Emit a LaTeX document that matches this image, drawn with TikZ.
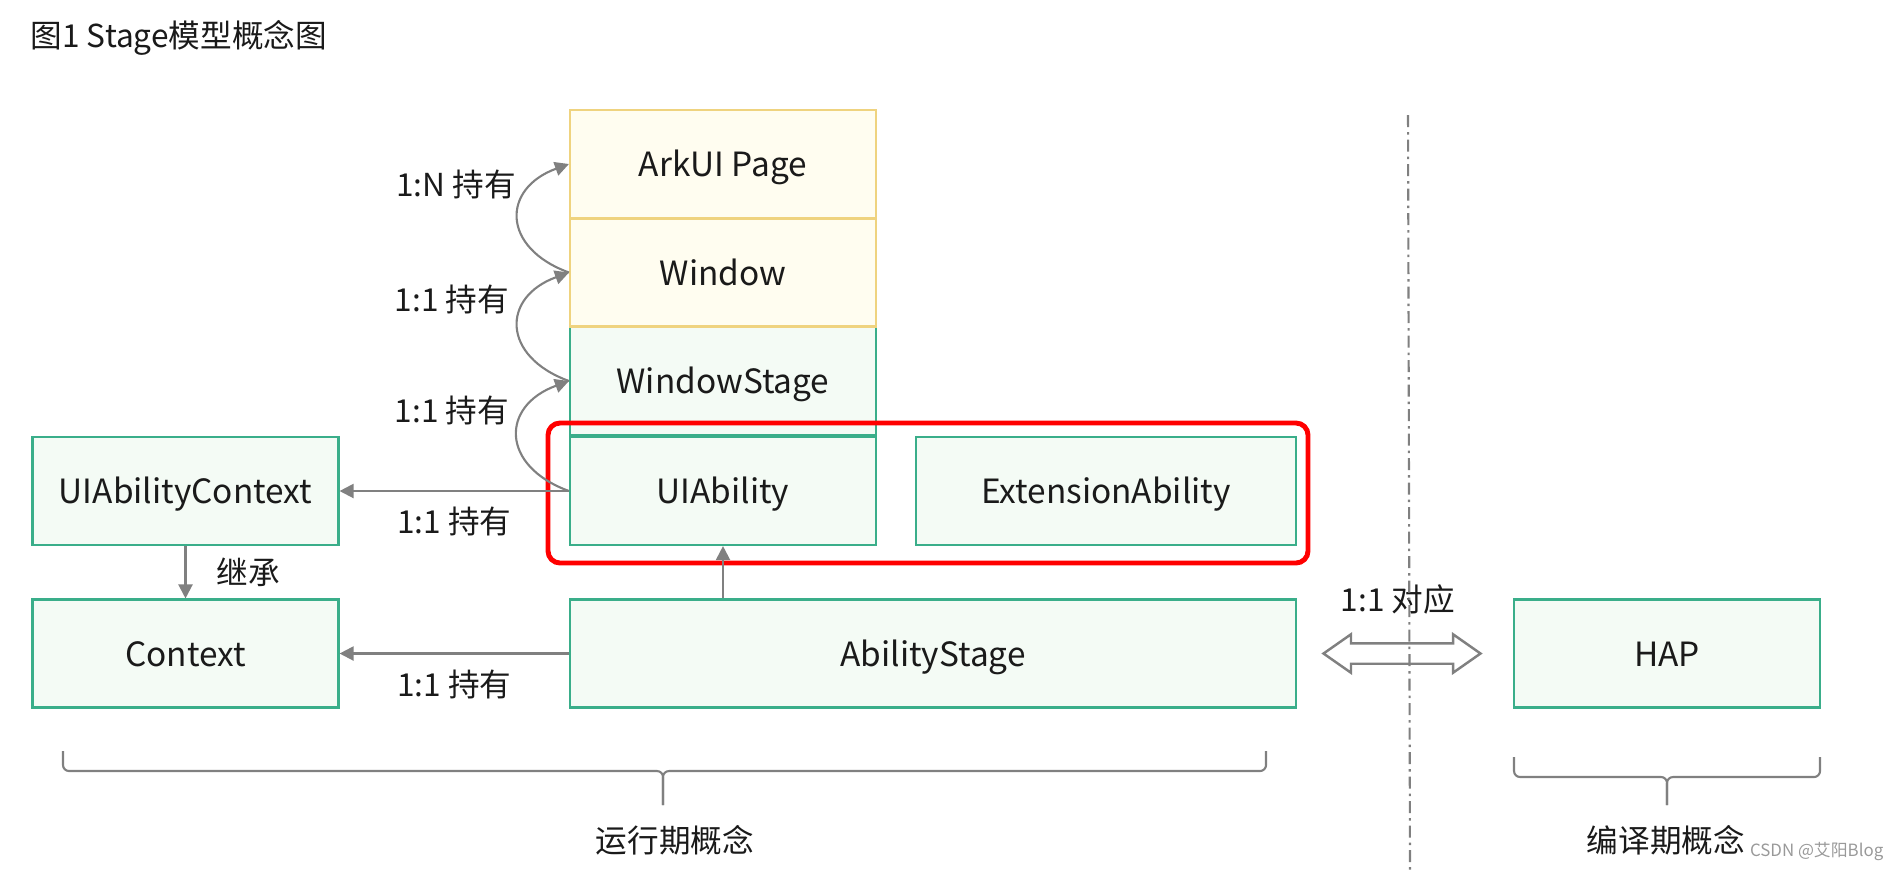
\documentclass[tikz,border=0pt]{standalone}
\usepackage{fontspec}
\newfontfamily\cjk{Noto Sans CJK SC}
\usetikzlibrary{arrows.meta,shapes.arrows}

\definecolor{boxgreen}{HTML}{3AAE8A}
\definecolor{fillgreen}{HTML}{F4FBF5}
\definecolor{boxyellow}{HTML}{EFD37F}
\definecolor{fillyellow}{HTML}{FFFDF0}
\definecolor{linkgray}{HTML}{808080}
\definecolor{textdark}{HTML}{1A1A1A}

\tikzset{
  greenbox/.style={draw=boxgreen, fill=fillgreen, line width=0.6pt, minimum width=30.6mm,
    minimum height=10.8mm, inner sep=0pt, text height=0.95em, text depth=0.22em,
    font=\cjk\fontsize{9.5}{11}\selectfont, text=textdark},
  yellowbox/.style={greenbox, draw=boxyellow, fill=fillyellow},
  link/.style={draw=linkgray, line width=0.6pt, -{Triangle[length=1.4mm,width=1.4mm]}},
  tag/.style={font=\cjk\fontsize{9}{11}\selectfont, text=textdark, inner sep=0pt},
  brace/.style={draw=linkgray, line width=0.6pt, rounded corners=0.6mm},
}

\begin{document}
\begin{tikzpicture}[x=0.1mm,y=-0.1mm]
  \useasboundingbox (0,0) rectangle (1890,870);
  \node[tag, anchor=west] (title) at (30,38) {图1 Stage模型概念图};

  % stack, drawn from the bottom up
  \node[greenbox] (UIAbility) at (723,491) {UIAbility};
  \node[greenbox] (WindowStage) at (723,381) {WindowStage};
  \node[yellowbox] (Window) at (723,272.5) {Window};
  \node[yellowbox] (ArkUIPage) at (723,164) {ArkUI Page};
  \node[greenbox, minimum width=38mm] (ExtensionAbility) at (1106,491) {ExtensionAbility};
  \node[greenbox] (UIAbilityContext) at (185.5,491) {UIAbilityContext};
  \node[greenbox] (Context) at (185.5,653.5) {Context};
  \node[greenbox, minimum width=72.6mm] (AbilityStage) at (933,653.5) {AbilityStage};
  \node[greenbox] (HAP) at (1667,653.5) {HAP};

  \draw[red, line width=1.4pt, rounded corners=1.2mm] (548,423) rectangle (1308,563);

  \draw[link] (UIAbility.west) -- (UIAbilityContext.east) node[tag, midway, below=1.5mm] {1:1 持有};
  \draw[link] (AbilityStage.west) -- (Context.east) node[tag, midway, below=1.5mm] {1:1 持有};
  \draw[link] (UIAbilityContext.south) -- (Context.north) node[tag, midway, right=3mm] {继承};
  \draw[link] (UIAbility.south |- AbilityStage.north) -- (UIAbility.south);

  \draw[link] (UIAbility.west) to[out=160,in=200,looseness=1.7] (WindowStage.west);
  \draw[link] (WindowStage.west) to[out=160,in=200,looseness=1.7] (Window.west);
  \draw[link] (Window.west) to[out=160,in=200,looseness=1.7] (ArkUIPage.west);
  \node[tag] (tagStage) at (452,410) {1:1 持有};
  \node[tag] (tagWindow) at (452,299) {1:1 持有};
  \node[tag] (tagPage) at (456,184) {1:N 持有};

  \node[double arrow, draw=linkgray, fill=white, line width=0.7pt, minimum height=15.7mm,
    inner xsep=0pt, inner ysep=0.9mm, double arrow head extend=0.9mm,
    double arrow tip angle=70] (corr) at (1402,653.5) {};
  \node[tag] (tagCorr) at (1398,599) {1:1 对应};

  % braces
  \draw[brace] (63,751) |- (663,771) -- (663,805);
  \draw[brace] (1266,751) |- (663,771) -- (663,805);
  \draw[brace] (1514,757) |- (1667,777) -- (1667,805);
  \draw[brace] (1820,757) |- (1667,777) -- (1667,805);
  \node[tag] (runtime) at (675,840) {运行期概念};
  \node[tag] (buildtime) at (1666,840) {编译期概念};

  \draw[draw=linkgray, line width=0.6pt, dash pattern=on 1.2mm off 0.5mm on 0.25mm off 0.5mm]
    (1408,115) -- (1410,870);

  \node[tag, font=\cjk\fontsize{4.8}{6}\selectfont, text=black!40, anchor=east] (mark) at (1884,851) {CSDN @艾阳Blog};
\end{tikzpicture}
\end{document}
